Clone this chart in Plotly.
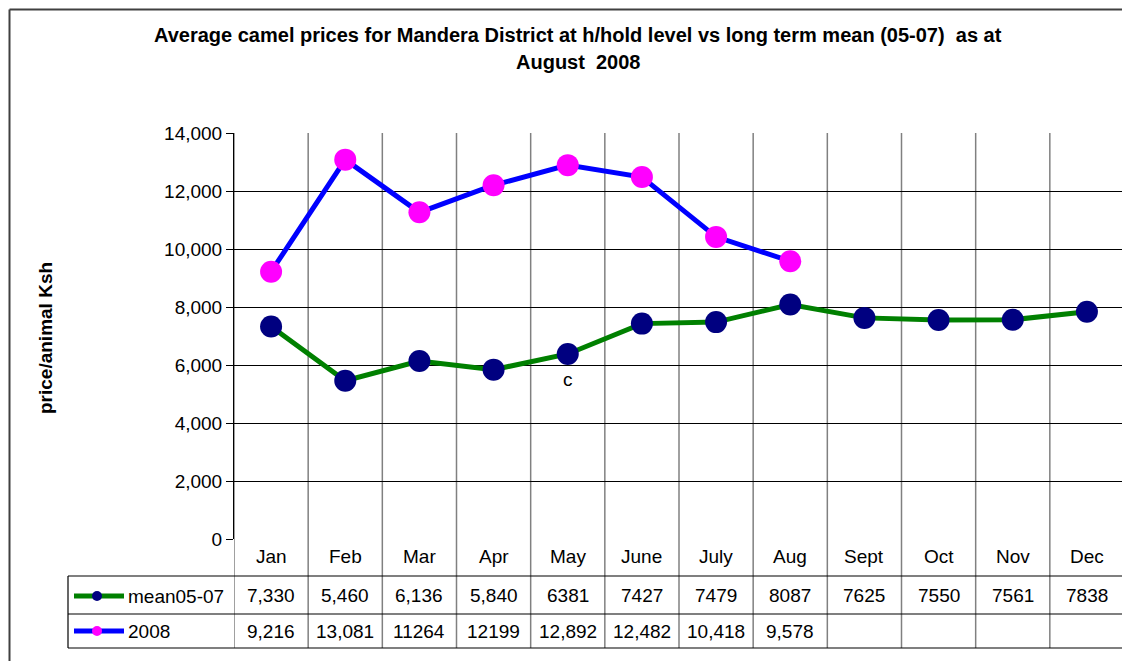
import plotly.graph_objects as go

months = ["Jan", "Feb", "Mar", "Apr", "May", "June", "July", "Aug", "Sept", "Oct", "Nov", "Dec"]
mean_0507 = [7330, 5460, 6136, 5840, 6381, 7427, 7479, 8087, 7625, 7550, 7561, 7838]
mean_labels = ["7,330", "5,460", "6,136", "5,840", "6381", "7427", "7479", "8087", "7625", "7550", "7561", "7838"]
y2008 = [9216, 13081, 11264, 12199, 12892, 12482, 10418, 9578, None, None, None, None]
y2008_labels = ["9,216", "13,081", "11264", "12199", "12,892", "12,482", "10,418", "9,578", "", "", "", ""]
yticks = [0, 2000, 4000, 6000, 8000, 10000, 12000, 14000]

# page has an 8px body margin; work in page pixels and convert
OFF = 8
W, H = 1130 - OFF, 661 - OFF
L, R, T, B = 234, 1124, 133, 539  # page pixels of plot area
PW, PH = R - L, B - T


def px(x):
    return (x - L) / PW


def py(y):
    return (B - y) / PH


FONT = "Liberation Sans, Arial, sans-serif"
FS = 19

fig = go.Figure()
fig.add_trace(go.Scatter(
    x=months, y=mean_0507, mode="lines+markers", name="mean05-07",
    line=dict(color="#008000", width=5),
    marker=dict(color="#000080", size=22),
    cliponaxis=False,
))
fig.add_trace(go.Scatter(
    x=months, y=y2008, mode="lines+markers", name="2008",
    line=dict(color="#0000FF", width=5),
    marker=dict(color="#FF00FF", size=22),
    cliponaxis=False, connectgaps=False,
))

shapes = []
for i in range(len(months) + 1):
    shapes.append(dict(type="line", xref="x", yref="paper",
                       x0=i - 0.5, x1=i - 0.5, y0=py(648), y1=1,
                       line=dict(color="#808080", width=1.5), layer="below"))
for yy in (576, 614, 648):
    shapes.append(dict(type="line", xref="paper", yref="paper",
                       x0=px(68), x1=px(R), y0=py(yy), y1=py(yy),
                       line=dict(color="#000000", width=1.2)))
shapes.append(dict(type="line", xref="paper", yref="paper",
                   x0=px(68), x1=px(68), y0=py(576), y1=py(648),
                   line=dict(color="#000000", width=1.2)))
# outer frame (left and top)
shapes.append(dict(type="line", xref="paper", yref="paper",
                   x0=px(9.5), x1=px(9.5), y0=py(9.5), y1=py(661),
                   line=dict(color="#404040", width=2)))
shapes.append(dict(type="line", xref="paper", yref="paper",
                   x0=px(9.5), x1=px(1130), y0=py(9.5), y1=py(9.5),
                   line=dict(color="#404040", width=2)))
for yy, lc, mc in ((596, "#008000", "#000080"), (631, "#0000FF", "#FF00FF")):
    shapes.append(dict(type="line", xref="paper", yref="paper",
                       x0=px(74), x1=px(124), y0=py(yy), y1=py(yy),
                       line=dict(color=lc, width=5)))
    shapes.append(dict(type="circle", xref="paper", yref="paper",
                       x0=px(92), x1=px(102), y0=py(yy + 5), y1=py(yy - 5),
                       fillcolor=mc, line=dict(color=mc, width=0)))

ann = []
ann.append(dict(text="<b>Average camel prices for Mandera District at h/hold level vs long term mean (05-07)  as at</b>",
                xref="paper", yref="paper", x=px(578), y=py(35), showarrow=False,
                font=dict(family=FONT, size=20, color="#000"), xanchor="center", yanchor="middle"))
ann.append(dict(text="<b>August  2008</b>",
                xref="paper", yref="paper", x=px(578), y=py(62), showarrow=False,
                font=dict(family=FONT, size=20, color="#000"), xanchor="center", yanchor="middle"))
ann.append(dict(text="<b>price/animal Ksh</b>", textangle=-90,
                xref="paper", yref="paper", x=px(45), y=py(338), showarrow=False,
                font=dict(family=FONT, size=19, color="#000"), xanchor="center", yanchor="middle"))
ann.append(dict(text="c", xref="x", yref="y", x="May", y=5500, showarrow=False,
                font=dict(family=FONT, size=FS, color="#000")))
for i, m in enumerate(months):
    ann.append(dict(text=m, xref="x", yref="paper", x=i, y=py(556), showarrow=False,
                    font=dict(family=FONT, size=FS, color="#000"), yanchor="middle"))
    ann.append(dict(text=mean_labels[i], xref="x", yref="paper", x=i, y=py(595), showarrow=False,
                    font=dict(family=FONT, size=FS, color="#000"), yanchor="middle"))
    if y2008_labels[i]:
        ann.append(dict(text=y2008_labels[i], xref="x", yref="paper", x=i, y=py(631), showarrow=False,
                        font=dict(family=FONT, size=FS, color="#000"), yanchor="middle"))
ann.append(dict(text="mean05-07", xref="paper", yref="paper", x=px(126), y=py(596), showarrow=False,
                xanchor="left", yanchor="middle", font=dict(family=FONT, size=FS, color="#000")))
ann.append(dict(text="2008", xref="paper", yref="paper", x=px(126), y=py(631), showarrow=False,
                xanchor="left", yanchor="middle", font=dict(family=FONT, size=FS, color="#000")))

fig.update_layout(
    width=W, height=H,
    margin=dict(l=L - OFF, r=W - (R - OFF), t=T - OFF, b=H - (B - OFF), pad=0),
    paper_bgcolor="white", plot_bgcolor="white",
    showlegend=False,
    font=dict(family=FONT, size=FS, color="#000"),
    shapes=shapes, annotations=ann,
    xaxis=dict(type="category", range=[-0.5, 11.5], showticklabels=False,
               showgrid=False, zeroline=False, showline=False, ticks=""),
    yaxis=dict(range=[0, 14000], tickvals=yticks, tickformat=",",
               showgrid=True, gridcolor="#000000", gridwidth=1,
               zeroline=False, showline=True, linecolor="#000000", linewidth=1,
               ticks="outside", ticklen=7, tickcolor="#000000",
               tickfont=dict(family=FONT, size=FS, color="#000")),
)
fig.write_html("out.html")
